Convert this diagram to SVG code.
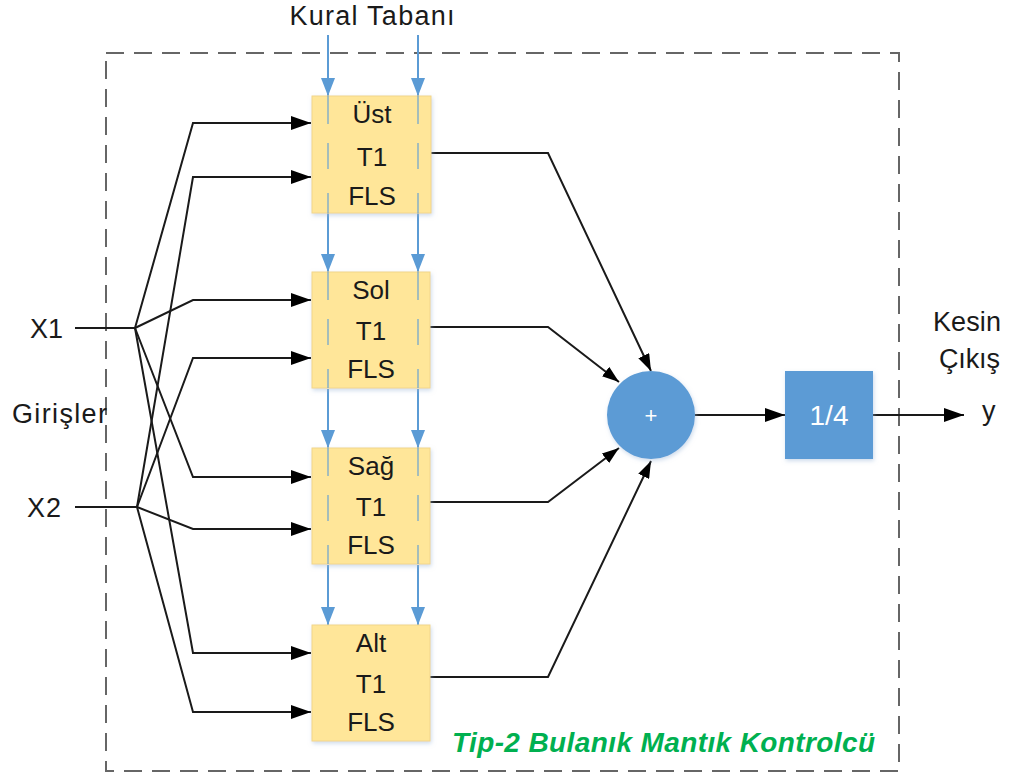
<svg xmlns="http://www.w3.org/2000/svg" width="1011" height="778" viewBox="0 0 1011 778">
<style>
text{font-family:"Liberation Sans",Arial,sans-serif;fill:#1a1a1a}
.blk{fill:#FFE699;stroke:#F2D68A;stroke-width:1}
.bt{font-size:26px;text-anchor:middle}
.ln{fill:none;stroke:#1a1a1a;stroke-width:2}
.bl{fill:none;stroke:#5B9BD5;stroke-width:2}
.bli{fill:none;stroke:#5B9BD5;stroke-width:2;stroke-opacity:0.55;stroke-dasharray:28 19 26 24 40}
.lbl{font-size:27px}
</style>
<defs>
<marker id="ab" markerUnits="userSpaceOnUse" markerWidth="20" markerHeight="14" refX="20" refY="7" orient="auto"><path d="M0,0 L20,7 L0,14 z" fill="#000"/></marker>
<marker id="as" markerUnits="userSpaceOnUse" markerWidth="17" markerHeight="12" refX="17" refY="6" orient="auto"><path d="M0,0 L17,6 L0,12 z" fill="#000"/></marker>
<marker id="au" markerUnits="userSpaceOnUse" markerWidth="18" markerHeight="14" refX="18" refY="7" orient="auto"><path d="M0,0 L18,7 L0,14 z" fill="#5B9BD5"/></marker>
<filter id="sh" x="-10%" y="-10%" width="130%" height="130%"><feDropShadow dx="1" dy="2" stdDeviation="2" flood-color="#9DB8D8" flood-opacity="0.5"/></filter>
</defs>
<rect x="106" y="53" width="793" height="718" fill="none" stroke="#666" stroke-width="2" stroke-dasharray="18 10"/>
<text x="372" y="25" class="lbl" text-anchor="middle" textLength="165">Kural Tabanı</text>
<text x="30" y="338" class="lbl" textLength="33">X1</text>
<text x="12" y="423" class="lbl" textLength="95">Girişler</text>
<text x="27" y="517" class="lbl" textLength="34">X2</text>
<text x="933" y="331" class="lbl" textLength="68">Kesin</text>
<text x="939" y="368" class="lbl" textLength="61">Çıkış</text>
<text x="982" y="420" class="lbl">y</text>
<text x="452" y="752" font-size="28" font-weight="bold" font-style="italic" style="fill:#00B050" textLength="423">Tip-2 Bulanık Mantık Kontrolcü</text>
<g id="connectors">
<path class="bl" d="M328,35 V96" marker-end="url(#au)"/>
<path class="bl" d="M418,35 V96" marker-end="url(#au)"/>
<path class="bl" d="M328,213 V272" marker-end="url(#au)"/>
<path class="bl" d="M418,213 V272" marker-end="url(#au)"/>
<path class="bl" d="M328,389 V448" marker-end="url(#au)"/>
<path class="bl" d="M418,389 V448" marker-end="url(#au)"/>
<path class="bl" d="M328,565 V625" marker-end="url(#au)"/>
<path class="bl" d="M418,565 V625" marker-end="url(#au)"/>
<path class="ln" d="M75,328 H135"/>
<path class="ln" d="M75,507 H137"/>
<path class="ln" d="M135,328 L193,123 H311" marker-end="url(#ab)"/>
<path class="ln" d="M135,328 L193,300 H311" marker-end="url(#ab)"/>
<path class="ln" d="M135,328 L193,477 H311" marker-end="url(#ab)"/>
<path class="ln" d="M135,328 L193,653 H311" marker-end="url(#ab)"/>
<path class="ln" d="M137,507 L193,177 H311" marker-end="url(#ab)"/>
<path class="ln" d="M137,507 L193,358 H311" marker-end="url(#ab)"/>
<path class="ln" d="M137,507 L193,529 H311" marker-end="url(#ab)"/>
<path class="ln" d="M137,507 L193,712 H311" marker-end="url(#ab)"/>
<path class="ln" d="M431,153 H548 L651,371" marker-end="url(#as)"/>
<path class="ln" d="M430,327 H548 L619,382" marker-end="url(#as)"/>
<path class="ln" d="M430,502 H548 L619,448" marker-end="url(#as)"/>
<path class="ln" d="M430,677 H548 L651,461" marker-end="url(#as)"/>
<path class="ln" d="M695,415 H785" marker-end="url(#ab)"/>
<path class="ln" d="M873,415 H964" marker-end="url(#ab)"/>
</g>
<g id="ust">
<rect class="blk" x="312" y="96" width="119" height="117" filter="url(#sh)"/>
<path class="bli" d="M328,96 V213 M418,96 V213"/>
<text class="bt" x="372" y="123">Üst</text>
<text class="bt" x="372" y="166">T1</text>
<text class="bt" x="372" y="205">FLS</text>
</g>
<g id="sol">
<rect class="blk" x="312" y="272" width="118" height="116" filter="url(#sh)"/>
<path class="bli" d="M328,272 V388 M418,272 V388"/>
<text class="bt" x="371" y="299">Sol</text>
<text class="bt" x="371" y="340">T1</text>
<text class="bt" x="371" y="378">FLS</text>
</g>
<g id="sag">
<rect class="blk" x="312" y="448" width="118" height="116" filter="url(#sh)"/>
<path class="bli" d="M328,448 V564 M418,448 V564"/>
<text class="bt" x="371" y="475">Sağ</text>
<text class="bt" x="371" y="516">T1</text>
<text class="bt" x="371" y="554">FLS</text>
</g>
<g id="alt">
<rect class="blk" x="312" y="625" width="118" height="116" filter="url(#sh)"/>
<text class="bt" x="371" y="652">Alt</text>
<text class="bt" x="371" y="693">T1</text>
<text class="bt" x="371" y="731">FLS</text>
</g>
<g id="sum">
<circle cx="651" cy="415" r="44" fill="#5B9BD5" filter="url(#sh)"/>
<text x="651" y="423" font-size="22" text-anchor="middle" style="fill:#fff">+</text>
</g>
<g id="gain">
<rect x="785" y="371" width="88" height="88" fill="#5B9BD5" filter="url(#sh)"/>
<text x="829" y="425" font-size="28" text-anchor="middle" style="fill:#fff">1/4</text>
</g>
</svg>
